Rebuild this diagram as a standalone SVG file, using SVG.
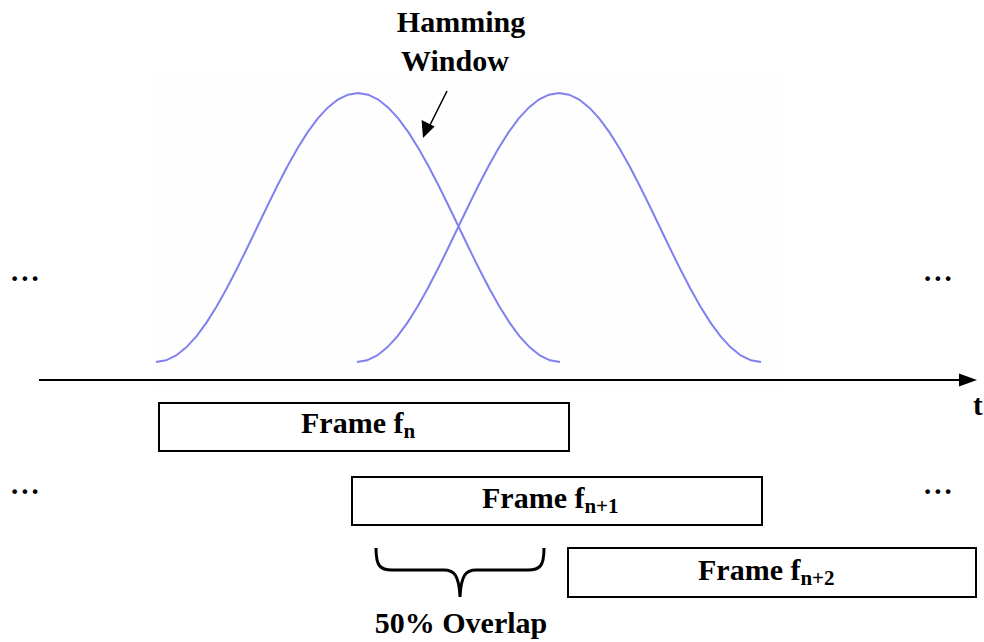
<svg xmlns="http://www.w3.org/2000/svg" width="984" height="642" viewBox="0 0 984 642">
<style>
.win{fill:none;stroke:#8080f0;stroke-width:2}
.box{fill:#fff;stroke:#000;stroke-width:2}
</style>
<defs>
<path id="hw" d="M156,362 L166.1,360.35 L176.2,355.42 L186.3,347.34 L196.4,336.31 L206.5,322.61 L216.6,306.56 L226.7,288.56 L236.8,269.06 L246.9,248.54 L257,227.5 L267.1,206.46 L277.2,185.94 L287.3,166.44 L297.4,148.44 L307.5,132.39 L317.6,118.69 L327.7,107.66 L337.8,99.58 L347.9,94.65 L358,93 L368.1,94.65 L378.2,99.58 L388.3,107.66 L398.4,118.69 L408.5,132.39 L418.6,148.44 L428.7,166.44 L438.8,185.94 L448.9,206.46 L459,227.5 L469.1,248.54 L479.2,269.06 L489.3,288.56 L499.4,306.56 L509.5,322.61 L519.6,336.31 L529.7,347.34 L539.8,355.42 L549.9,360.35 L560,362"/>
</defs>
<rect x="153" y="75" width="627" height="317" fill="#fefefe"/>
<g id="windows">
<use href="#hw" class="win"/>
<use href="#hw" class="win" transform="translate(201,0)"/>
</g>
<g id="connectors">
<line x1="39" y1="380" x2="962" y2="380" stroke="#000" stroke-width="2"/>
<polygon points="977,380 959,373.5 959,386.5" fill="#000"/>
<line x1="447" y1="91" x2="430" y2="125" stroke="#000" stroke-width="1.5"/>
<polygon points="423,138 421.6,120 434.6,126.5" fill="#000"/>
<path d="M376,548 C376,566 380,570 392,570 L444,570 C454,570 459,575 460,597 C461,575 466,570 476,570 L528,570 C540,570 544,566 544,548" fill="none" stroke="#000" stroke-width="3"/>
</g>
<g id="label-hamming">
<text x="461" y="32" font-family="Liberation Serif" font-weight="bold" font-size="30" text-anchor="middle">Hamming</text>
<text x="455" y="71" font-family="Liberation Serif" font-weight="bold" font-size="30" text-anchor="middle">Window</text>
</g>
<g id="axis-label"><text x="973" y="415" font-family="Liberation Serif" font-weight="bold" font-size="29">t</text></g>
<g id="dots">
<text x="11" y="281" font-family="Liberation Serif" font-weight="bold" font-size="29" letter-spacing="3">...</text>
<text x="924" y="281" font-family="Liberation Serif" font-weight="bold" font-size="29" letter-spacing="3">...</text>
<text x="11" y="494" font-family="Liberation Serif" font-weight="bold" font-size="29" letter-spacing="3">...</text>
<text x="924" y="494" font-family="Liberation Serif" font-weight="bold" font-size="29" letter-spacing="3">...</text>
</g>
<g id="frame-n">
<rect class="box" x="159" y="403" width="410" height="48"/>
<text x="301" y="433" font-family="Liberation Serif" font-weight="bold" font-size="30">Frame f<tspan font-size="21" dy="5">n</tspan></text>
</g>
<g id="frame-n1">
<rect class="box" x="352" y="477" width="410" height="48"/>
<text x="482" y="508" font-family="Liberation Serif" font-weight="bold" font-size="30">Frame f<tspan font-size="21" dy="5">n+1</tspan></text>
</g>
<g id="frame-n2">
<rect class="box" x="568" y="548" width="408" height="49"/>
<text x="698" y="580" font-family="Liberation Serif" font-weight="bold" font-size="30">Frame f<tspan font-size="21" dy="5">n+2</tspan></text>
</g>
<g id="overlap-label">
<text x="461" y="633" font-family="Liberation Serif" font-weight="bold" font-size="30" text-anchor="middle">50% Overlap</text>
</g>
</svg>
